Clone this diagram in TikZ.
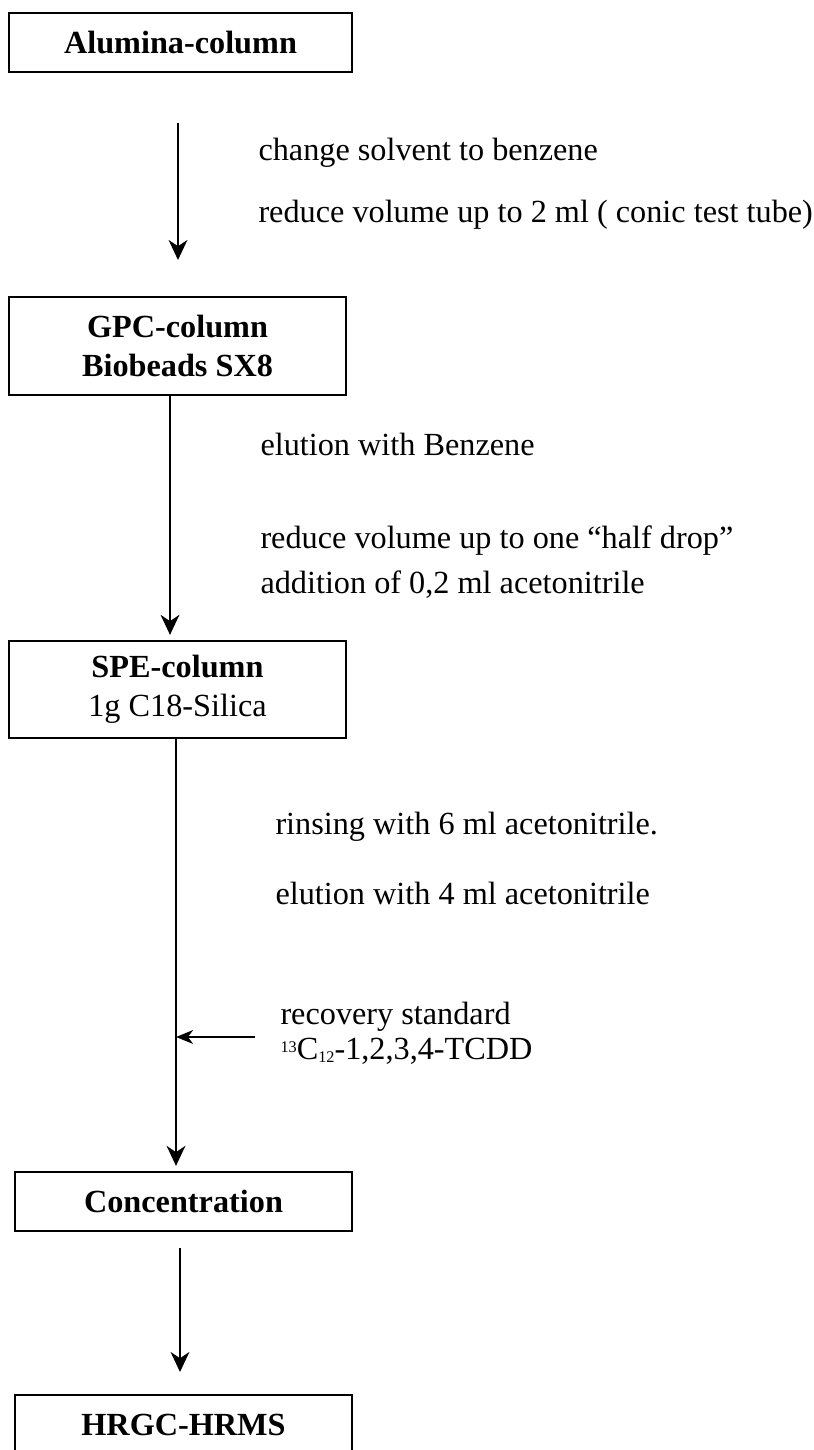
\documentclass[tikz,border=0pt]{standalone}
\usepackage{fontspec}
\setmainfont{Liberation Serif}
\usetikzlibrary{arrows.meta,positioning,calc}
\newcommand{\stepsize}{\fontsize{12.9}{15.8}\selectfont}
\newcommand{\isotope}[2]{\raisebox{0.45ex}{\fontsize{6.5}{7}\selectfont #1}C\raisebox{-0.25ex}{\fontsize{6.5}{7}\selectfont #2}}

\tikzset{
  stage/.style={draw, line width=0.9pt, align=center, inner sep=0pt,
    minimum width=134.8pt, font=\stepsize\bfseries},
  note/.style={anchor=west, inner sep=0pt, font=\stepsize},
  flow/.style={line width=0.8pt, -{Stealth[length=8pt,width=7.5pt,inset=2.5pt]}},
  sideflow/.style={line width=0.8pt, -{Stealth[length=6.8pt,width=5.5pt,inset=2pt]}},
}

\begin{document}
\begin{tikzpicture}[x=0.4pt, y=-0.4pt]
\useasboundingbox (0,0) rectangle (813,1450);
% boxes
\node[stage, minimum width=137.2pt, minimum height=23.6pt] (alu) at (180.5,42.5) {Alumina-column};
\node[stage, minimum height=39.2pt] (gpc) at (177.5,346) {GPC-column\\Biobeads SX8};
\node[stage, minimum height=38.8pt] (spe) at (177.5,689.5) {SPE-column\\\mdseries 1g C18-Silica};
\node[stage, minimum height=23.6pt] (conc) at (183.5,1201.5) {Concentration};
\node[stage, minimum height=23.6pt] (hrgc) at (183.5,1424.5) {HRGC-HRMS};
% side notes
\node[note] (n1) at (258,153) {change solvent to benzene};
\node[note] (n2) at (258,215) {reduce volume up to 2 ml ( conic test tube)};
\node[note] (n3) at (260,444) {elution with Benzene};
\node[note] (n4) at (260,541) {reduce volume up to one “half drop”};
\node[note] (n5) at (260,585) {addition of 0,2 ml acetonitrile};
\node[note] (n6) at (275,827) {rinsing with 6 ml acetonitrile.};
\node[note] (n7) at (275,893) {elution with 4 ml acetonitrile};
\node[note] (n8) at (280,1017) {recovery standard};
\node[note] (n9) at (280,1051) {\isotope{13}{12}-1,2,3,4-TCDD};
% arrows
\coordinate (a1top) at (178,123);
\coordinate (a1tip) at (178,260);
\draw[flow] (a1top) -- (a1tip);
\draw[flow] ([xshift=-3pt]gpc.south) -- ([xshift=-3pt,yshift=2pt]spe.north);
\coordinate (s3) at ([xshift=-0.6pt]spe.south);
\draw[flow] (s3) -- ($(s3 |- conc.north)+(0,-5)$);
\coordinate (rin) at (255,1037);
\draw[sideflow] (rin) -- (rin -| s3);
\coordinate (a4top) at (180,1248);
\coordinate (a4tip) at (180,1372);
\draw[flow] (a4top) -- (a4tip);
\end{tikzpicture}
\end{document}
